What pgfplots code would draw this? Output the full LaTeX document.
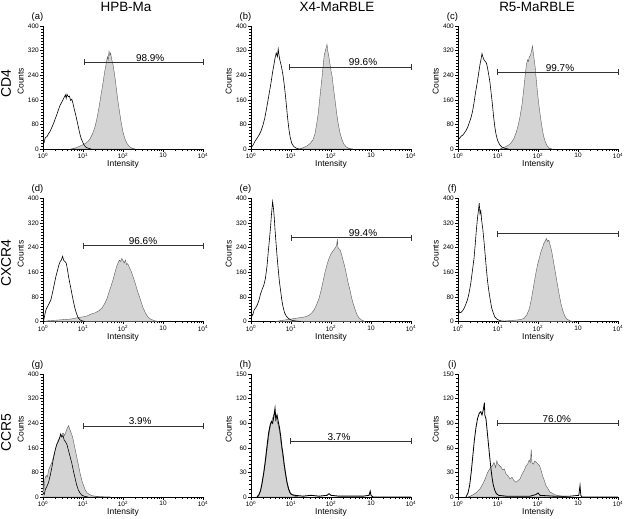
\documentclass[border=0pt]{standalone}
\usepackage{pgfplots}
\pgfplotsset{compat=1.18}
\usepackage{fontspec}
\setmainfont{Liberation Sans}
\definecolor{histfill}{RGB}{212,212,212}
\definecolor{histdraw}{RGB}{90,90,90}
\pgfplotsset{
  facs/.style={
    scale only axis, width=160bp, height=123bp,
    axis x line*=bottom, axis y line*=left,
    axis line style={line width=0.8bp, black},
    xmin=0, xmax=4, ymin=0,
    xtick={0,1,2,3,4},
    xticklabels={10\textsuperscript{0},10\textsuperscript{1},10\textsuperscript{2},10,10\textsuperscript{4}},
    minor xtick={0.301,0.477,0.602,0.699,0.778,0.845,0.903,0.954,
                 1.301,1.477,1.602,1.699,1.778,1.845,1.903,1.954,
                 2.301,2.477,2.602,2.699,2.778,2.845,2.903,2.954,
                 3.301,3.477,3.602,3.699,3.778,3.845,3.903,3.954},
    tick align=outside,
    major tick length=3bp, minor tick length=1.8bp,
    every tick/.style={black, line width=0.5bp},
    tick label style={font=\fontsize{6.5}{7}\selectfont},
    xticklabel style={inner sep=1bp},
    yticklabel style={inner sep=1bp},
    /pgf/number format/assume math mode=true,
    clip=false,
    xlabel={Intensity}, ylabel={Counts},
    every axis x label/.style={at={(axis description cs:0.5,-0.125)}, anchor=center, font=\fontsize{8.5}{9}\selectfont},
    every axis y label/.style={at={(axis description cs:-0.14,0.55)}, rotate=90, anchor=center, font=\fontsize{8.5}{9}\selectfont},
  },
  y400/.style={ymax=400, ytick={0,80,160,240,320,400}, minor y tick num=7},
  y150/.style={ymax=150, ytick={0,30,60,90,120,150}, minor y tick num=5},
  ctrl/.style={black, line width=0.6bp, no markers},
  stain/.style={fill=histfill, draw=histdraw, line width=0.4bp, no markers},
  gate/.style={black!80, line width=0.6bp, mark=|, mark size=3bp, mark options={line width=0.6bp}},
}
\newcommand{\plab}[1]{\node[font=\fontsize{9.5}{10}\selectfont, anchor=south] at (axis description cs:-0.035,1.01) {#1};}
\newcommand{\pct}[3]{\node[font=\fontsize{10}{11}\selectfont, anchor=south, inner sep=0.8bp] at (axis cs:#1,#2) {#3};}
\begin{document}
\begin{tikzpicture}[x=1bp,y=1bp]
\useasboundingbox (0,0) rectangle (624,519);
% ---------------- (a)
\begin{axis}[facs, y400, at={(43bp,370bp)}, anchor=south west]
\addplot[stain] coordinates {(0.7,0)(0.8,3)(0.9,8)(1.0,14)(1.06,18)(1.12,24)(1.18,34)(1.24,50)(1.3,72)(1.35,100)(1.4,135)(1.45,175)(1.5,215)(1.54,250)(1.58,278)(1.61,300)(1.63,290)(1.65,318)(1.67,305)(1.69,312)(1.72,290)(1.75,275)(1.78,250)(1.81,222)(1.84,190)(1.88,150)(1.92,115)(1.96,82)(2.0,55)(2.05,32)(2.1,18)(2.16,8)(2.22,3)(2.3,0)} \closedcycle;
\addplot[ctrl] coordinates {(0,30)(0.03,22)(0.06,38)(0.1,40)(0.14,50)(0.18,58)(0.22,70)(0.26,82)(0.3,96)(0.34,110)(0.38,125)(0.42,140)(0.46,150)(0.5,160)(0.53,168)(0.56,176)(0.58,165)(0.6,178)(0.63,170)(0.66,172)(0.69,158)(0.72,162)(0.75,148)(0.78,130)(0.81,115)(0.84,98)(0.87,80)(0.9,62)(0.93,45)(0.96,32)(1.0,20)(1.04,10)(1.08,5)(1.14,2)(1.2,0)};
\addplot[gate] coordinates {(1.02,282)(4,282)};
\pct{2.68}{282}{98.9\%}
\plab{(a)}
\end{axis}
% ---------------- (b)
\begin{axis}[facs, y400, at={(251bp,370bp)}, anchor=south west]
\addplot[stain] coordinates {(1.2,0)(1.3,4)(1.4,10)(1.48,18)(1.55,30)(1.6,50)(1.64,80)(1.68,115)(1.72,165)(1.76,215)(1.8,265)(1.83,305)(1.86,320)(1.88,330)(1.9,340)(1.92,318)(1.94,305)(1.97,280)(2.0,255)(2.03,235)(2.06,200)(2.1,160)(2.14,118)(2.18,82)(2.22,55)(2.27,32)(2.32,16)(2.38,7)(2.45,2)(2.55,0)} \closedcycle;
\addplot[ctrl] coordinates {(0,5)(0.05,12)(0.1,25)(0.15,35)(0.2,45)(0.25,58)(0.3,78)(0.34,98)(0.38,125)(0.42,155)(0.46,185)(0.5,215)(0.54,250)(0.57,272)(0.6,295)(0.63,312)(0.66,300)(0.68,325)(0.7,305)(0.72,290)(0.74,280)(0.77,262)(0.8,240)(0.83,210)(0.86,175)(0.89,135)(0.92,95)(0.95,62)(0.98,38)(1.02,18)(1.07,8)(1.14,2)(1.2,0)};
\addplot[gate] coordinates {(0.95,267)(4,267)};
\pct{2.8}{267}{99.6\%}
\plab{(b)}
\end{axis}
% ---------------- (c)
\begin{axis}[facs, y400, at={(458bp,370bp)}, anchor=south west]
\addplot[stain] coordinates {(1.05,0)(1.12,4)(1.2,8)(1.28,14)(1.34,22)(1.4,35)(1.45,52)(1.5,75)(1.55,105)(1.6,145)(1.64,190)(1.68,240)(1.71,275)(1.74,290)(1.76,285)(1.78,298)(1.81,305)(1.84,320)(1.86,335)(1.88,315)(1.9,295)(1.93,265)(1.96,220)(1.99,180)(2.02,145)(2.06,105)(2.1,70)(2.14,42)(2.18,24)(2.23,10)(2.28,3)(2.35,0)} \closedcycle;
\addplot[ctrl] coordinates {(0,38)(0.04,34)(0.08,42)(0.12,45)(0.16,52)(0.2,60)(0.24,70)(0.28,85)(0.32,100)(0.36,120)(0.4,150)(0.44,185)(0.48,215)(0.52,250)(0.55,275)(0.58,295)(0.6,310)(0.62,300)(0.65,290)(0.68,285)(0.71,280)(0.74,262)(0.77,240)(0.8,215)(0.83,180)(0.86,145)(0.89,105)(0.92,72)(0.95,48)(0.99,28)(1.04,14)(1.1,6)(1.18,2)(1.26,0)};
\addplot[gate] coordinates {(0.97,250)(4,250)};
\pct{2.55}{250}{99.7\%}
\plab{(c)}
\end{axis}
% ---------------- (d)
\begin{axis}[facs, y400, at={(43bp,197.5bp)}, anchor=south west]
\addplot[stain] coordinates {(0.05,0)(0.15,3)(0.3,4)(0.5,6)(0.7,8)(0.85,12)(1.0,15)(1.1,18)(1.2,24)(1.3,28)(1.4,35)(1.48,45)(1.55,60)(1.6,75)(1.65,95)(1.7,115)(1.75,135)(1.8,160)(1.84,178)(1.88,192)(1.91,200)(1.94,195)(1.97,205)(2.0,198)(2.03,190)(2.06,200)(2.09,185)(2.12,188)(2.16,175)(2.2,165)(2.24,150)(2.28,135)(2.32,118)(2.36,100)(2.4,85)(2.45,65)(2.5,45)(2.56,28)(2.62,15)(2.7,7)(2.8,2)(2.9,0)} \closedcycle;
\addplot[ctrl] coordinates {(0,30)(0.02,5)(0.05,25)(0.08,40)(0.12,50)(0.16,60)(0.2,72)(0.24,95)(0.28,120)(0.32,145)(0.36,165)(0.4,185)(0.43,195)(0.46,200)(0.49,212)(0.52,198)(0.55,195)(0.58,190)(0.61,170)(0.64,145)(0.67,125)(0.7,105)(0.73,85)(0.76,65)(0.8,42)(0.84,25)(0.88,12)(0.93,5)(1.0,1)(1.05,0)};
\addplot[gate] coordinates {(1.0,247)(4,247)};
\pct{2.5}{247}{96.6\%}
\plab{(d)}
\end{axis}
% ---------------- (e)
\begin{axis}[facs, y400, at={(251bp,197.5bp)}, anchor=south west]
\addplot[stain] coordinates {(0.6,0)(0.75,3)(0.9,6)(1.05,9)(1.2,12)(1.35,15)(1.45,20)(1.52,28)(1.58,38)(1.64,55)(1.7,75)(1.75,100)(1.8,130)(1.85,160)(1.9,185)(1.95,205)(2.0,220)(2.04,228)(2.08,235)(2.11,240)(2.14,248)(2.16,268)(2.17,242)(2.2,236)(2.23,232)(2.27,215)(2.31,195)(2.35,175)(2.39,150)(2.43,125)(2.47,105)(2.51,80)(2.55,60)(2.6,40)(2.65,22)(2.7,12)(2.76,5)(2.85,0)} \closedcycle;
\addplot[ctrl] coordinates {(0,27)(0.04,20)(0.08,38)(0.12,45)(0.16,55)(0.2,70)(0.24,90)(0.28,105)(0.32,118)(0.36,140)(0.4,180)(0.43,225)(0.46,265)(0.49,310)(0.51,345)(0.53,375)(0.54,390)(0.56,370)(0.58,340)(0.6,300)(0.62,265)(0.65,215)(0.68,170)(0.71,130)(0.74,100)(0.77,70)(0.8,48)(0.84,28)(0.88,18)(0.92,12)(0.98,6)(1.05,3)(1.15,1)(1.25,0)};
\addplot[gate] coordinates {(1.0,273)(4,273)};
\pct{2.8}{273}{99.4\%}
\plab{(e)}
\end{axis}
% ---------------- (f)
\begin{axis}[facs, y400, at={(458bp,197.5bp)}, anchor=south west]
\addplot[stain] coordinates {(1.0,0)(1.2,2)(1.4,4)(1.55,6)(1.65,10)(1.72,22)(1.78,40)(1.83,70)(1.87,100)(1.91,130)(1.95,160)(1.99,185)(2.03,205)(2.07,225)(2.11,240)(2.15,255)(2.18,262)(2.21,270)(2.24,260)(2.27,265)(2.3,250)(2.34,230)(2.38,200)(2.42,170)(2.46,140)(2.5,110)(2.54,80)(2.58,55)(2.62,35)(2.67,18)(2.72,8)(2.8,2)(2.9,0)} \closedcycle;
\addplot[ctrl] coordinates {(0,105)(0.015,40)(0.04,28)(0.08,30)(0.12,36)(0.16,45)(0.2,58)(0.24,72)(0.28,95)(0.32,125)(0.36,165)(0.4,205)(0.43,250)(0.46,300)(0.49,340)(0.51,360)(0.53,385)(0.55,350)(0.57,360)(0.59,330)(0.62,300)(0.65,260)(0.68,215)(0.71,170)(0.74,130)(0.77,100)(0.8,75)(0.84,45)(0.88,28)(0.92,15)(0.97,8)(1.04,3)(1.12,1)(1.2,0)};
\addplot[gate] coordinates {(0.99,286)(4,286)};
\plab{(f)}
\end{axis}
% ---------------- (g)
\begin{axis}[facs, y400, at={(43bp,22bp)}, anchor=south west]
\addplot[stain] coordinates {(0,50)(0.02,20)(0.05,60)(0.08,70)(0.11,65)(0.14,88)(0.18,100)(0.22,112)(0.26,130)(0.3,150)(0.34,170)(0.38,185)(0.42,195)(0.46,200)(0.5,208)(0.54,200)(0.58,215)(0.61,225)(0.64,232)(0.67,220)(0.7,210)(0.74,195)(0.78,170)(0.82,145)(0.86,120)(0.9,95)(0.94,70)(0.98,50)(1.02,35)(1.06,22)(1.1,14)(1.16,8)(1.24,4)(1.35,2)(1.5,1)(1.7,0)} \closedcycle;
\addplot[ctrl] coordinates {(0,15)(0.03,8)(0.06,25)(0.1,35)(0.14,48)(0.18,70)(0.22,95)(0.26,125)(0.3,150)(0.34,170)(0.38,180)(0.41,190)(0.44,205)(0.47,195)(0.5,200)(0.53,185)(0.56,180)(0.6,170)(0.64,150)(0.68,130)(0.72,110)(0.76,85)(0.8,62)(0.84,40)(0.88,24)(0.92,14)(0.97,6)(1.04,2)(1.12,0)};
\addplot[gate] coordinates {(1.0,231)(4,231)};
\pct{2.43}{231}{3.9\%}
\plab{(g)}
\end{axis}
% ---------------- (h)
\begin{axis}[facs, y150, at={(251bp,22bp)}, anchor=south west]
\addplot[stain] coordinates {(0.18,0)(0.22,5)(0.26,12)(0.3,24)(0.34,36)(0.38,50)(0.42,65)(0.46,80)(0.5,90)(0.54,96)(0.58,102)(0.61,100)(0.64,94)(0.68,88)(0.72,78)(0.76,62)(0.8,48)(0.84,34)(0.88,22)(0.92,12)(0.96,6)(1.0,3)(1.1,1)(1.2,0)} \closedcycle;
\addplot[ctrl, line width=0.9bp] coordinates {(0.15,0)(0.2,3)(0.24,8)(0.28,18)(0.32,30)(0.36,45)(0.4,62)(0.44,78)(0.48,88)(0.51,92)(0.54,90)(0.57,98)(0.6,108)(0.62,95)(0.65,100)(0.68,92)(0.71,85)(0.74,75)(0.77,62)(0.8,52)(0.83,40)(0.86,30)(0.9,18)(0.94,10)(0.98,5)(1.02,3)(1.1,2)(1.3,1)(1.5,2)(1.7,1)(1.9,2)(1.95,4)(2.0,2)(2.2,1)(2.5,1)(2.8,1)(2.95,2)(2.98,7)(3.0,2)(3.05,0)(4,0)};
\addplot[gate] coordinates {(0.98,68)(4,68)};
\pct{2.2}{68}{3.7\%}
\plab{(h)}
\end{axis}
% ---------------- (i)
\begin{axis}[facs, y150, at={(458bp,22bp)}, anchor=south west]
\addplot[stain] coordinates {(0.25,0)(0.35,2)(0.45,5)(0.55,10)(0.62,16)(0.68,22)(0.74,30)(0.8,35)(0.86,38)(0.9,42)(0.94,36)(0.97,44)(1.0,40)(1.04,38)(1.08,36)(1.12,33)(1.16,34)(1.2,28)(1.25,26)(1.3,22)(1.35,24)(1.4,20)(1.45,18)(1.5,20)(1.55,22)(1.6,28)(1.65,32)(1.7,38)(1.74,40)(1.78,45)(1.81,42)(1.83,58)(1.85,42)(1.88,40)(1.92,44)(1.96,42)(2.0,40)(2.04,38)(2.08,32)(2.12,25)(2.16,20)(2.2,14)(2.25,10)(2.3,6)(2.38,4)(2.46,2)(2.6,1)(2.75,0)} \closedcycle;
\addplot[ctrl, line width=0.8bp] coordinates {(0.2,0)(0.25,5)(0.29,14)(0.33,30)(0.37,50)(0.41,70)(0.45,85)(0.49,96)(0.53,102)(0.57,104)(0.6,100)(0.63,106)(0.66,115)(0.67,100)(0.7,95)(0.73,80)(0.76,65)(0.79,50)(0.82,36)(0.85,24)(0.88,15)(0.92,8)(0.96,4)(1.02,2)(1.2,1)(1.5,1)(1.8,1)(1.95,3)(2.0,5)(2.05,2)(2.4,1)(2.8,1)(3.02,2)(3.05,14)(3.07,2)(3.1,0)(4,0)};
\addplot[gate] coordinates {(0.97,90)(4,90)};
\pct{2.47}{90}{76.0\%}
\plab{(i)}
\end{axis}
% column and row titles
\node[font=\fontsize{13.5}{15}\selectfont] at (126,512) {HPB-Ma};
\node[font=\fontsize{13.5}{15}\selectfont] at (337,512) {X4-MaRBLE};
\node[font=\fontsize{13.5}{15}\selectfont] at (537,512) {R5-MaRBLE};
\node[font=\fontsize{14}{15}\selectfont, rotate=90] at (6,435) {CD4};
\node[font=\fontsize{14}{15}\selectfont, rotate=90] at (6,256) {CXCR4};
\node[font=\fontsize{14}{15}\selectfont, rotate=90] at (6,86) {CCR5};
\end{tikzpicture}
\end{document}
